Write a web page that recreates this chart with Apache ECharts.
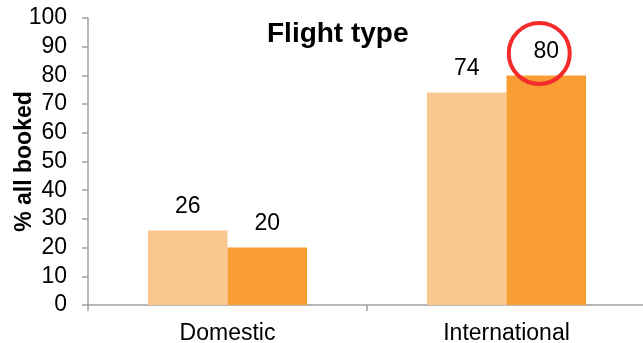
<!DOCTYPE html>
<html>
<head>
<meta charset="utf-8">
<script src="https://cdn.jsdelivr.net/npm/echarts@6/dist/echarts.min.js"></script>
<style>
  html, body { margin: 0; padding: 0; background: #ffffff; }
  #chart { width: 643px; height: 343px; }
</style>
</head>
<body>
<div id="chart"></div>
<script>
const categories = ['Domestic', 'International'];
const seriesLight = [26, 74];
const seriesDark = [20, 80];
const yTickValues = [0, 10, 20, 30, 40, 50, 60, 70, 80, 90, 100];
const highlightPoint = ['International', 80];

const FONT = '"Liberation Sans", Arial, Helvetica, sans-serif';
const AXIS_GREY = '#A0A0A0';

const chart = echarts.init(document.getElementById('chart'), null, { renderer: 'canvas' });

const labelStyle = {
  show: true,
  position: 'top',
  distance: 12,
  fontSize: 23,
  fontFamily: FONT,
  color: '#000000'
};

chart.setOption({
  animation: false,
  backgroundColor: '#ffffff',
  title: {
    text: 'Flight type',
    left: 262,
    top: 15,
    textStyle: { fontFamily: FONT, fontSize: 28, fontWeight: 'bold', color: '#000000' }
  },
  grid: { left: 88, right: -3, top: 18, bottom: 38, containLabel: false, outerBoundsMode: 'none' },
  xAxis: {
    type: 'category',
    data: categories,
    axisLine: { show: true, lineStyle: { color: AXIS_GREY, width: 1.5 } },
    axisTick: { show: true, alignWithLabel: false, length: 6, lineStyle: { color: AXIS_GREY, width: 1.5 } },
    axisLabel: { fontFamily: FONT, fontSize: 23, color: '#000000', margin: 17 }
  },
  yAxis: {
    type: 'value',
    min: yTickValues[0],
    max: yTickValues[yTickValues.length - 1],
    interval: yTickValues[1] - yTickValues[0],
    name: '% all booked',
    nameLocation: 'middle',
    nameGap: 52,
    nameMoveOverlap: false,
    nameRotate: 90,
    nameTextStyle: { fontFamily: FONT, fontSize: 23, fontWeight: 'bold', color: '#000000' },
    axisLine: { show: true, lineStyle: { color: AXIS_GREY, width: 1.5 } },
    axisTick: { show: true, length: 6, lineStyle: { color: AXIS_GREY, width: 1.5 } },
    splitLine: { show: false },
    axisLabel: { fontFamily: FONT, fontSize: 23, color: '#000000', margin: 21 }
  },
  series: [
    {
      name: 'Series 1',
      type: 'bar',
      data: seriesLight,
      barGap: '0%',
      barCategoryGap: '43%',
      itemStyle: { color: '#F9C891' },
      label: labelStyle
    },
    {
      name: 'Series 2',
      type: 'bar',
      data: seriesDark,
      barGap: '0%',
      barCategoryGap: '43%',
      itemStyle: { color: '#F79D34' },
      label: labelStyle,
      markPoint: {
        silent: true,
        symbol: 'circle',
        symbolSize: 61,
        symbolOffset: [-7, -22],
        itemStyle: { color: 'rgba(0,0,0,0)', borderColor: '#F52A2A', borderWidth: 4 },
        label: { show: false },
        data: [{ coord: highlightPoint }]
      }
    }
  ]
});
</script>
</body>
</html>
